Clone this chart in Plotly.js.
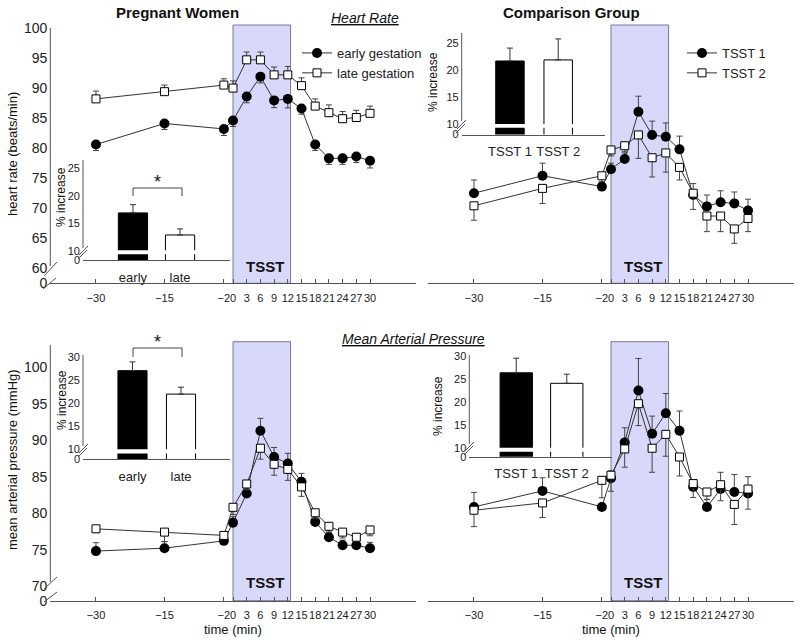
<!DOCTYPE html>
<html>
<head>
<meta charset="utf-8">
<script src="https://cdn.plot.ly/plotly-3.0.1.min.js"></script>
<style>
  body { margin: 0; background: #fff; }
  #graph { width: 800px; height: 640px; }
</style>
</head>
<body>
<div id="graph"></div>
<script>
// sampling times (min relative to TSST start)
var times = [-30, -15, -2, 0, 3, 6, 9, 12, 15, 18, 21, 24, 27, 30];

// heart rate (beats/min), pregnant women
var hrEarly = [80.6, 84.1, 83.2, 84.6, 88.6, 91.9, 87.95, 88.2, 86.6, 80.6, 78.3, 78.3, 78.6, 77.9];
var hrEarlyErr = [1.0, 1.0, 1.1, 1.0, 1.05, 1.05, 1.2, 1.5, 0.95, 1.0, 1.0, 1.0, 1.0, 1.2];
var hrLate = [88.2, 89.4, 90.5, 90.0, 94.7, 94.7, 92.2, 92.2, 90.4, 87.0, 85.9, 84.9, 85.1, 85.8];
var hrLateErr = [1.3, 1.1, 1.05, 1.2, 1.3, 1.3, 1.3, 1.4, 1.3, 1.2, 1.3, 1.2, 1.2, 1.2];

// heart rate, comparison group
var hrT1 = [72.5, 75.4, 73.6, 76.5, 78.2, 86.05, 82.2, 81.9, 79.8, 72.2, 70.3, 71.0, 70.8, 69.6];
var hrT1Err = [2.2, 2.1, 0.8, 1.0, 1.0, 2.6, 2.3, 2.3, 2.2, 1.9, 1.9, 1.9, 1.9, 1.9];
var hrT2 = [70.4, 73.3, 75.4, 79.7, 80.4, 82.2, 78.4, 79.2, 76.8, 72.5, 68.7, 68.7, 66.55, 68.3];
var hrT2Err = [2.4, 2.5, 1.0, 1.0, 1.0, 3.9, 3.2, 3.2, 2.1, 2.7, 2.6, 2.6, 2.4, 2.2];

// mean arterial pressure (mmHg), pregnant women
var mapEarly = [74.8, 75.2, 76.2, 78.7, 82.7, 91.3, 87.7, 86.8, 84.3, 78.8, 76.7, 75.6, 75.6, 75.2];
var mapEarlyErr = [1.15, 0.9, 0.5, 0.8, 0.8, 1.7, 1.3, 1.4, 1.15, 0.8, 0.7, 0.7, 0.7, 0.8];
var mapLate = [77.85, 77.4, 76.95, 80.8, 84.0, 88.9, 86.7, 86.0, 83.6, 80.05, 78.2, 77.4, 76.7, 77.7];
var mapLateErr = [0.5, 1.3, 0.5, 1.0, 0.8, 1.5, 1.5, 1.5, 1.3, 0.8, 0.8, 0.8, 0.6, 0.8];

// mean arterial pressure, comparison group
var mapT1 = [80.85, 83.05, 80.85, 84.8, 89.7, 96.8, 90.9, 93.7, 91.3, 83.6, 80.85, 83.3, 82.9, 82.7];
var mapT1Err = [2.0, 1.8, 0.5, 1.0, 2.0, 4.4, 2.4, 2.7, 2.7, 1.0, 1.0, 2.3, 2.4, 2.3];
var mapT2 = [80.4, 81.4, 84.5, 85.2, 88.8, 95.0, 88.9, 90.8, 87.7, 84.05, 82.9, 83.9, 81.2, 83.3];
var mapT2Err = [2.25, 2.0, 2.4, 2.2, 2.5, 3.0, 3.3, 3.0, 2.6, 1.9, 1.0, 2.2, 2.75, 2.75];

// inset bars: % increase
var pregGroups = ['early', 'late'];
var compGroups = ['TSST 1', 'TSST 2'];
var hrPregPct = [16.9, 12.9];
var hrPregPctErr = [1.5, 1.1];
var hrCompPct = [21.7, 21.9];
var hrCompPctErr = [2.4, 3.9];
var mapPregPct = [27.1, 22.0];
var mapPregPctErr = [1.9, 1.5];
var mapCompPct = [26.4, 24.1];
var mapCompPctErr = [3.2, 2.0];

// tsst period on the time axis
var tsstWindow = [0, 12.6];

var FONT = 'Liberation Sans, Arial, sans-serif';
var noErr = times.map(function () { return 0; });

// pixel -> paper helpers (margins are zero)
function P(x) { return x / 800; }
function Q(y) { return 1 - y / 640; }

function series(x, y, err, up, filled, xa, ya, name, legend) {
	return {
		x: x, y: y, xaxis: xa, yaxis: ya, name: name,
		type: 'scatter', mode: 'lines+markers',
		line: {color: '#333', width: 1},
		marker: filled ?
			{symbol: 'circle', size: 10, color: '#000', line: {color: '#000', width: 0}} :
			{symbol: 'square', size: 8, color: '#fff', line: {color: '#000', width: 1}},
		error_y: {
			type: 'data', symmetric: false,
			array: up ? err : noErr,
			arrayminus: up ? noErr : err,
			color: '#444', thickness: 1, width: 3
		},
		showlegend: !!legend, legend: legend || 'legend',
		hoverinfo: 'none'
	};
}

function bars(cats, vals, err, xa, ya, width) {
	return {
		x: cats, y: vals, xaxis: xa, yaxis: ya, type: 'bar', width: width,
		marker: {color: ['#000', '#fff'], line: {color: '#000', width: 1}},
		error_y: {type: 'data', symmetric: false, array: err, arrayminus: [0, 0],
			color: '#333', thickness: 1, width: 3},
		showlegend: false, hoverinfo: 'none'
	};
}

var traces = [
	series(times, hrEarly, hrEarlyErr, false, true, 'x', 'y', 'early gestation', 'legend'),
	series(times, hrLate, hrLateErr, true, false, 'x', 'y', 'late gestation', 'legend'),
	series(times, hrT1, hrT1Err, true, true, 'x2', 'y2', 'TSST 1', 'legend2'),
	series(times, hrT2, hrT2Err, false, false, 'x2', 'y2', 'TSST 2', 'legend2'),
	series(times, mapEarly, mapEarlyErr, true, true, 'x3', 'y3', 'early'),
	series(times, mapLate, mapLateErr, false, false, 'x3', 'y3', 'late'),
	series(times, mapT1, mapT1Err, true, true, 'x4', 'y4', 'TSST 1'),
	series(times, mapT2, mapT2Err, false, false, 'x4', 'y4', 'TSST 2'),
	bars(pregGroups, hrPregPct, hrPregPctErr, 'x5', 'y5', 0.62),
	bars(compGroups, hrCompPct, hrCompPctErr, 'x6', 'y6', 0.59),
	bars(pregGroups, mapPregPct, mapPregPctErr, 'x7', 'y7', 0.6),
	bars(compGroups, mapCompPct, mapCompPctErr, 'x8', 'y8', 0.64)
];

function timeAxis(x0, x1, anchor) {
	return {
		domain: [P(x0), P(x1)], range: [-40, 40], anchor: anchor,
		tickvals: times, ticks: 'inside', ticklen: 4, tickcolor: '#555',
		tickangle: 0,
		showline: true, linecolor: '#555', linewidth: 1,
		showgrid: false, zeroline: false, fixedrange: true,
		tickfont: {size: 11, color: '#222'}, ticklabelstandoff: 4
	};
}

function valueAxis(y0, y1, range, vals, text, anchor, show) {
	return {
		domain: [Q(y0), Q(y1)], range: range, anchor: anchor, visible: show,
		tickvals: vals, ticktext: text, ticks: '',
		showline: false, showgrid: false, zeroline: false, fixedrange: true,
		tickfont: {size: 14, color: '#222'}, ticklabelstandoff: 2
	};
}

function insetX(x0, x1, range, anchor) {
	return {
		domain: [P(x0), P(x1)], range: range, anchor: anchor, type: 'category',
		ticks: '', tickangle: 0, showline: true, linecolor: '#555', linewidth: 1,
		showgrid: false, zeroline: false, fixedrange: true,
		tickfont: {size: 13, color: '#222'}, ticklabelstandoff: 5
	};
}

function insetY(y0, y1, range, vals, text, anchor) {
	return {
		domain: [Q(y0), Q(y1)], range: range, anchor: anchor,
		tickvals: vals, ticktext: text, ticks: '',
		showline: false, showgrid: false, zeroline: false, fixedrange: true,
		tickfont: {size: 11, color: '#222'}, ticklabelstandoff: 2
	};
}

// line segment in pixel space
function seg(x0, y0, x1, y1, color) {
	return {type: 'line', xref: 'paper', yref: 'paper',
		x0: P(x0), y0: Q(y0), x1: P(x1), y1: Q(y1),
		line: {color: color || '#555', width: 1}, layer: 'above'};
}

function tsstBox(xa, y0, y1) {
	return {type: 'rect', xref: xa, yref: 'paper',
		x0: tsstWindow[0], x1: tsstWindow[1], y0: Q(y0), y1: Q(y1),
		fillcolor: 'rgb(216,216,250)', line: {color: 'rgb(120,120,150)', width: 1},
		layer: 'below'};
}

// white stripe cutting the inset bars at the axis break
function cut(xa, ya, lo, hi) {
	return {type: 'rect', xref: xa, yref: ya, x0: -0.4, x1: 1.4, y0: lo, y1: hi,
		fillcolor: '#fff', line: {width: 0}, layer: 'above'};
}

var shapes = [
	tsstBox('x', 283.3, 25), tsstBox('x2', 283.3, 25),
	tsstBox('x3', 600.7, 341.7), tsstBox('x4', 600.7, 341.7),
	// main y axes with breaks
	seg(50.3, 28, 50.3, 266), seg(44, 276, 57, 262), seg(43, 289, 56, 278),
	seg(50.3, 345, 50.3, 582), seg(44, 589, 57, 577), seg(44, 602, 57, 592),
	// inset y axes with breaks
	seg(83, 160, 83, 248), seg(79, 255, 88, 246), seg(78, 259, 87, 250),
	seg(461.7, 33, 461.7, 121), seg(457, 129, 466, 120), seg(456, 133, 465, 124),
	seg(83, 355, 83, 446), seg(79, 453, 88, 444), seg(78, 457, 87, 448),
	seg(469.3, 355, 469.3, 444), seg(465, 451, 474, 442), seg(464, 455, 473, 446),
	cut('x5', 'y5', 9.4, 10.15), cut('x6', 'y6', 9.3, 10.0),
	cut('x7', 'y7', 9.1, 10.0), cut('x8', 'y8', 9.1, 10.0),
	// significance brackets
	seg(133, 196, 133, 188, '#444'), seg(133, 188, 182, 188, '#444'), seg(182, 188, 182, 196, '#444'),
	seg(133, 357, 133, 348, '#444'), seg(133, 348, 182, 348, '#444'), seg(182, 348, 182, 357, '#444')
];

function note(text, x, y, size, extra) {
	var a = {text: text, xref: 'paper', yref: 'paper', x: P(x), y: Q(y),
		xanchor: 'center', yanchor: 'middle', showarrow: false,
		font: {family: FONT, size: size, color: '#111'}};
	for (var k in (extra || {})) a[k] = extra[k];
	return a;
}

var annotations = [
	note('<b>Pregnant Women</b>', 177, 12, 15),
	note('<b>Comparison Group</b>', 571, 12, 15),
	note('<i><u>Heart Rate</u></i>', 365, 18, 14),
	note('<i><u>Mean Arterial Pressure</u></i>', 414, 339, 14),
	note('<b>TSST</b>', 265, 266, 15), note('<b>TSST</b>', 643, 266, 15),
	note('<b>TSST</b>', 265, 582, 15), note('<b>TSST</b>', 643, 582, 15),
	note('*', 157, 182, 18), note('*', 157, 342, 18),
	note('heart rate (beats/min)', 12, 154, 13, {textangle: -90}),
	note('mean arterial pressure (mmHg)', 12, 460, 13, {textangle: -90}),
	note('% increase', 61, 197, 12, {textangle: -90}),
	note('% increase', 433, 82, 12, {textangle: -90}),
	note('% increase', 62, 400, 12, {textangle: -90}),
	note('% increase', 438, 406, 12, {textangle: -90}),
	note('time (min)', 233, 629, 13), note('time (min)', 611, 629, 13)
];

var hrVals = [57.5, 60, 65, 70, 75, 80, 85, 90, 95, 100];
var hrText = ['0', '60', '65', '70', '75', '80', '85', '90', '95', '100'];
var mapVals = [68, 70, 75, 80, 85, 90, 95, 100];
var mapText = ['0', '70', '75', '80', '85', '90', '95', '100'];

var layout = {
	width: 800, height: 640,
	margin: {l: 0, r: 0, t: 0, b: 0},
	paper_bgcolor: '#fff', plot_bgcolor: 'rgba(0,0,0,0)',
	font: {family: FONT, color: '#222'},
	xaxis: timeAxis(50.3, 415.7, 'y'),
	yaxis: valueAxis(283.3, 25, [57.5, 100.5], hrVals, hrText, 'x', true),
	xaxis2: timeAxis(428.3, 793.7, 'y2'),
	yaxis2: valueAxis(283.3, 25, [57.5, 100.5], hrVals, hrText, 'x2', false),
	xaxis3: timeAxis(50.3, 415.7, 'y3'),
	yaxis3: valueAxis(600.7, 341.7, [68, 103.5], mapVals, mapText, 'x3', true),
	xaxis4: timeAxis(428.3, 793.7, 'y4'),
	yaxis4: valueAxis(600.7, 341.7, [68, 103.5], mapVals, mapText, 'x4', false),
	xaxis5: insetX(83, 230, [-1.06, 2.06], 'y5'),
	yaxis5: insetY(260, 160, [8.36, 26.5], [8.36, 10, 15, 20, 25], ['0', '10', '15', '20', '25'], 'x5'),
	xaxis6: insetX(461.7, 605, [-1.0, 1.97], 'y6'),
	yaxis6: insetY(134.5, 33, [8.05, 26.9], [8.05, 10, 15, 20, 25], ['0', '10', '15', '20', '25'], 'x6'),
	xaxis7: insetX(83, 230, [-1.02, 2.01], 'y7'),
	yaxis7: insetY(459.3, 355, [7.83, 30.5], [7.83, 10, 15, 20, 25, 30], ['0', '10', '15', '20', '25', '30'], 'x7'),
	xaxis8: insetX(469.3, 611.7, [-0.93, 1.89], 'y8'),
	yaxis8: insetY(456.7, 355, [8.03, 30.3], [8.03, 10, 15, 20, 25, 30], ['0', '10', '15', '20', '25', '30'], 'x8'),
	legend: {x: P(297), y: Q(38), xanchor: 'left', yanchor: 'top',
		bgcolor: 'rgba(0,0,0,0)', font: {size: 13, color: '#222'}},
	legend2: {x: P(682), y: Q(38), xanchor: 'left', yanchor: 'top',
		bgcolor: 'rgba(0,0,0,0)', font: {size: 13, color: '#222'}},
	shapes: shapes,
	annotations: annotations,
	bargap: 0
};

Plotly.newPlot('graph', traces, layout, {staticPlot: true});
</script>
</body>
</html>
